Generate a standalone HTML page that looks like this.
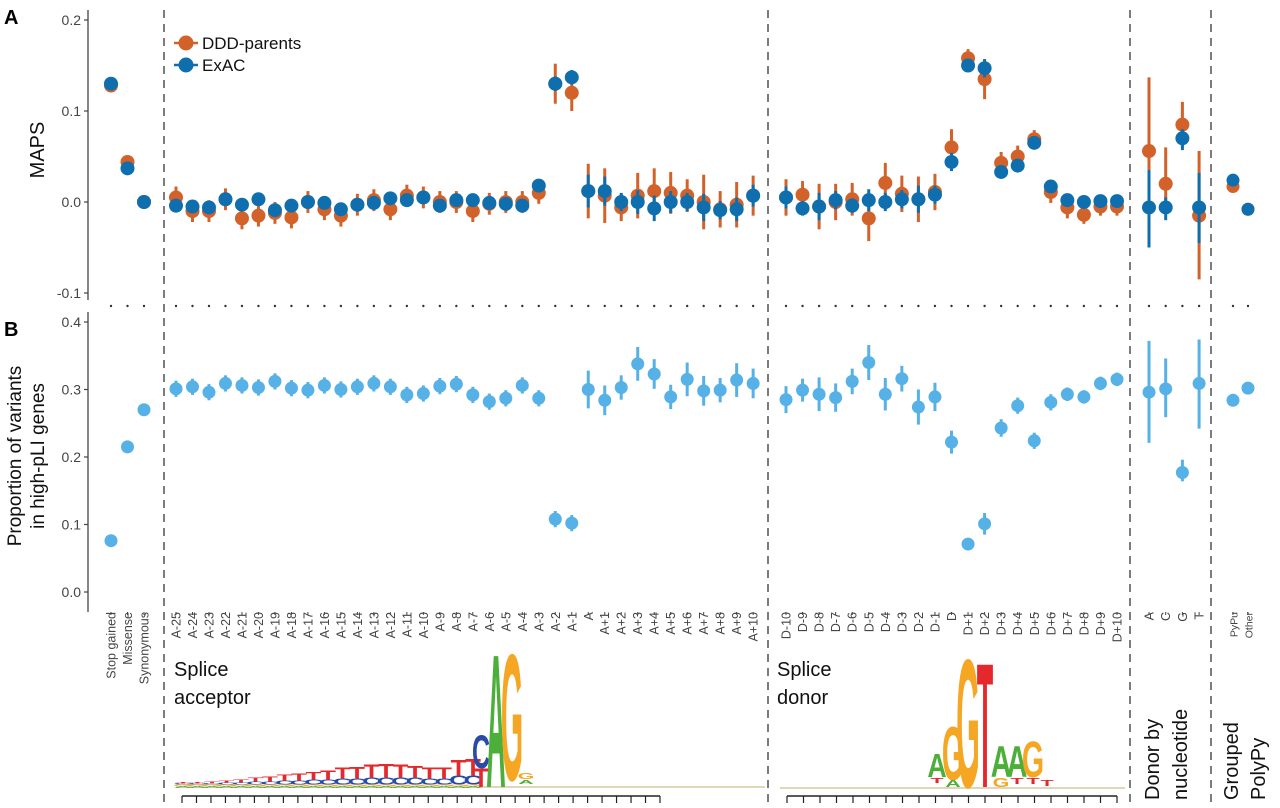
<!DOCTYPE html>
<html><head><meta charset="utf-8"><style>
html,body{margin:0;padding:0;background:#fff;}
svg{display:block;font-family:"Liberation Sans",Arial,sans-serif;}
</style></head><body>
<svg id="chart" width="1280" height="808" viewBox="0 0 1280 808">
<text x="4" y="24" font-size="20" font-weight="bold">A</text>
<text x="4" y="336" font-size="20" font-weight="bold">B</text>
<text transform="translate(44,150) rotate(-90)" text-anchor="middle" font-size="20" fill="#111">MAPS</text>
<text transform="translate(21,456) rotate(-90)" text-anchor="middle" font-size="19" fill="#111">Proportion of variants</text>
<text transform="translate(44,456) rotate(-90)" text-anchor="middle" font-size="19" fill="#111">in high-pLI genes</text>
<g id="legend">
<g><line x1="174" y1="43" x2="198" y2="43" stroke="#d2622a" stroke-width="2.5"/><circle cx="186" cy="43" r="7.5" fill="#d2622a"/><text x="202" y="49" font-size="17" fill="#111">DDD-parents</text></g>
<g><line x1="174" y1="65" x2="198" y2="65" stroke="#0f6fae" stroke-width="2.5"/><circle cx="186" cy="65" r="7.5" fill="#0f6fae"/><text x="202" y="71" font-size="17" fill="#111">ExAC</text></g>
</g>
<g id="axes"></g><g id="marks"></g><g id="logos"></g>
<text x="174" y="676" font-size="20" fill="#111">Splice</text>
<text x="174" y="704" font-size="20" fill="#111">acceptor</text>
<text x="777" y="676" font-size="20" fill="#111">Splice</text>
<text x="777" y="704" font-size="20" fill="#111">donor</text>
<text transform="translate(1159,800) rotate(-90)" font-size="20" fill="#111">Donor by</text>
<text transform="translate(1187,800) rotate(-90)" font-size="20" fill="#111">nucleotide</text>
<text transform="translate(1238,800) rotate(-90)" font-size="20" fill="#111">Grouped</text>
<text transform="translate(1265,800) rotate(-90)" font-size="20" fill="#111">PolyPy</text>
</svg>
<script>
// ---- data ----
const leftCats = ["Stop gained","Missense","Synonymous"];
const accCats = ["A-25","A-24","A-23","A-22","A-21","A-20","A-19","A-18","A-17","A-16","A-15","A-14","A-13","A-12","A-11","A-10","A-9","A-8","A-7","A-6","A-5","A-4","A-3","A-2","A-1","A","A+1","A+2","A+3","A+4","A+5","A+6","A+7","A+8","A+9","A+10"];
const donCats = ["D-10","D-9","D-8","D-7","D-6","D-5","D-4","D-3","D-2","D-1","D","D+1","D+2","D+3","D+4","D+5","D+6","D+7","D+8","D+9","D+10"];
const nucCats = ["A","C","G","T"];
const grpCats = ["PyPu","Other"];
const topTicks = [0.2,0.1,0.0,-0.1];
const botTicks = [0.4,0.3,0.2,0.1,0.0];

const leftDDD = [0.128,0.044,0.0];
const leftExAC = [0.130,0.037,0.0];
const accDDD = [0.005,-0.010,-0.010,0.003,-0.018,-0.015,-0.012,-0.017,0.000,-0.008,-0.015,-0.003,0.002,-0.008,0.007,0.005,0.000,0.000,-0.010,-0.002,0.000,0.000,0.010,0.130,0.120,0.012,0.007,-0.006,0.007,0.012,0.010,0.007,0.000,-0.008,-0.003,0.007];
const accDDDerr = [0.012,0.012,0.012,0.012,0.012,0.012,0.012,0.012,0.012,0.012,0.012,0.012,0.012,0.012,0.012,0.012,0.012,0.012,0.012,0.012,0.012,0.012,0.012,0.022,0.020,0.030,0.030,0.015,0.025,0.025,0.023,0.018,0.030,0.020,0.025,0.022];
const accExAC = [-0.004,-0.005,-0.006,0.003,-0.003,0.003,-0.009,-0.004,0.000,-0.001,-0.008,-0.003,-0.001,0.004,0.002,0.005,-0.004,0.002,0.002,-0.001,-0.002,-0.004,0.018,0.130,0.137,0.012,0.012,0.000,0.000,-0.007,0.000,0.000,-0.006,-0.009,-0.008,0.007];
const accExACerr = [0.006,0.006,0.006,0.006,0.006,0.006,0.006,0.006,0.006,0.006,0.006,0.006,0.006,0.006,0.006,0.006,0.006,0.006,0.006,0.006,0.006,0.006,0.006,0.008,0.008,0.018,0.016,0.010,0.013,0.014,0.012,0.010,0.015,0.010,0.013,0.012];
const donDDD = [0.005,0.008,-0.005,0.000,0.003,-0.018,0.021,0.009,0.003,0.011,0.060,0.158,0.135,0.043,0.050,0.069,0.011,-0.006,-0.014,-0.005,-0.005];
const donDDDerr = [0.020,0.015,0.025,0.020,0.018,0.025,0.022,0.020,0.025,0.020,0.020,0.010,0.022,0.012,0.012,0.010,0.012,0.012,0.010,0.010,0.010];
const donExAC = [0.005,-0.007,-0.005,0.002,-0.004,0.002,0.000,0.003,0.003,0.008,0.044,0.150,0.147,0.033,0.040,0.065,0.017,0.002,0.000,0.001,0.001];
const donExACerr = [0.012,0.008,0.015,0.010,0.008,0.012,0.010,0.010,0.015,0.010,0.010,0.007,0.010,0.007,0.007,0.007,0.006,0.006,0.005,0.005,0.005];
const nucDDD = [0.056,0.020,0.085,-0.015];
const nucDDDlo = [-0.020,-0.010,0.060,-0.085];
const nucDDDhi = [0.137,0.060,0.110,0.056];
const nucExAC = [-0.006,-0.006,0.070,-0.006];
const nucExAClo = [-0.050,-0.020,0.057,-0.045];
const nucExAChi = [0.035,0.005,0.080,0.032];
const grpDDD = [0.017,-0.008];
const grpExAC = [0.024,-0.008];

const leftProp = [0.076,0.215,0.270];
const accProp = [0.301,0.304,0.296,0.309,0.306,0.303,0.312,0.302,0.299,0.306,0.300,0.304,0.309,0.304,0.292,0.294,0.305,0.308,0.292,0.282,0.287,0.306,0.287,0.108,0.102,0.300,0.284,0.303,0.338,0.323,0.289,0.315,0.298,0.299,0.314,0.309];
const accPropErr = [0.012,0.012,0.012,0.012,0.012,0.012,0.012,0.012,0.012,0.012,0.012,0.012,0.012,0.012,0.012,0.012,0.012,0.012,0.012,0.012,0.012,0.012,0.012,0.012,0.012,0.028,0.022,0.018,0.025,0.022,0.018,0.025,0.022,0.018,0.025,0.022];
const donProp = [0.285,0.299,0.293,0.288,0.312,0.340,0.293,0.316,0.274,0.289,0.222,0.071,0.101,0.243,0.276,0.224,0.281,0.293,0.289,0.309,0.315];
const donPropErr = [0.020,0.017,0.025,0.021,0.019,0.026,0.024,0.019,0.026,0.021,0.017,0.005,0.016,0.013,0.012,0.012,0.012,0.010,0.010,0.010,0.010];
const nucProp = [0.296,0.301,0.177,0.309];
const nucPropLo = [0.221,0.259,0.164,0.242];
const nucPropHi = [0.372,0.346,0.196,0.374];
const grpProp = [0.284,0.302];

// logo data (letter heights in px)
const accT = [1,1,2,2,3,4,5,6,7,8,9,11,12,13,14,13,12,11,11,16,17];
const accC = [1,1,1,2,2,3,3,4,4,5,5,6,6,7,7,7,7,6,6,9,9];

// ---- scales ----
const xLeft = i => 111 + 16.5*i;
const xAcc = i => 176 + 16.49*i;
const xDon = i => 786 + 16.55*i;
const xNuc = i => 1149 + 16.7*i;
const xGrp = i => 1233 + 15*i;
const yTop = v => 202 - v*910;
const yBot = v => 592 - v*675;

const NS = "http://www.w3.org/2000/svg";
function mk(tag, attrs, parent){const e=document.createElementNS(NS,tag);for(const k in attrs)e.setAttribute(k,attrs[k]);parent.appendChild(e);return e;}
const axes = document.getElementById('axes');
const marks = document.getElementById('marks');
const logos = document.getElementById('logos');

// axes
let ax = mk('line',{x1:88,y1:10,x2:88,y2:300,stroke:'#444','stroke-width':1.3},axes);


ax = mk('line',{x1:88,y1:312,x2:88,y2:612,stroke:'#444','stroke-width':1.3},axes);


topTicks.forEach(v=>{
  const y=yTop(v);
  const t=mk('line',{x1:84,y1:y,x2:88,y2:y,stroke:'#444','stroke-width':1.2},axes);
  
  
  const l=mk('text',{x:81,y:y+5,'text-anchor':'end','font-size':14,fill:'#444'},axes);
  l.textContent=v.toFixed(1);
  
  
});
botTicks.forEach(v=>{
  const y=yBot(v);
  const t=mk('line',{x1:84,y1:y,x2:88,y2:y,stroke:'#444','stroke-width':1.2},axes);
  
  
  const l=mk('text',{x:81,y:y+5,'text-anchor':'end','font-size':14,fill:'#444'},axes);
  l.textContent=v.toFixed(1);
  
  
});
// dashed dividers
[164,768,1130,1211].forEach(x=>{
  const d=mk('line',{x1:x,y1:10,x2:x,y2:808,stroke:'#444','stroke-width':1.4,'stroke-dasharray':'8,6'},axes);
  
  
});
// x labels + dotted separator
function xlabels(cats, fx, fs){
  cats.forEach((c,i)=>{
    const x=fx(i);
    const dot=mk('circle',{cx:x,cy:306,r:1.2,fill:'#333'},axes);
    
    
    const t=mk('text',{transform:`translate(${x+4.5},612) rotate(-90)`,'text-anchor':'end','font-size':fs,fill:'#444'},axes);
    t.textContent=c;
    
    
    const tk=mk('line',{x1:x,y1:612,x2:x,y2:615,stroke:'#444','stroke-width':1},axes);
    
    
  });
}
xlabels(leftCats,xLeft,12.5);
xlabels(accCats,xAcc,12.5);
xlabels(donCats,xDon,12.5);
xlabels(nucCats,xNuc,12.5);
xlabels(grpCats,xGrp,10.5);

// marks
function pt(x,y,lo,hi,r,col,name){
  if(lo!==null){
    const e=mk('line',{x1:x,y1:lo,x2:x,y2:hi,stroke:col,'stroke-width':3},marks);
    
    
  }
  const c=mk('circle',{cx:x,cy:y,r:r,fill:col},marks);
  
  
}
const OR='#d2622a', BL='#0f6fae', LB='#56b1e6';
leftDDD.forEach((v,i)=>pt(xLeft(i),yTop(v),null,null,7,OR,'point-ddd'));
leftExAC.forEach((v,i)=>pt(xLeft(i),yTop(v),null,null,7,BL,'point-exac'));
accDDD.forEach((v,i)=>pt(xAcc(i),yTop(v),yTop(v-accDDDerr[i]),yTop(v+accDDDerr[i]),7,OR,'point-ddd'));
accExAC.forEach((v,i)=>pt(xAcc(i),yTop(v),yTop(v-accExACerr[i]),yTop(v+accExACerr[i]),7,BL,'point-exac'));
donDDD.forEach((v,i)=>pt(xDon(i),yTop(v),yTop(v-donDDDerr[i]),yTop(v+donDDDerr[i]),7,OR,'point-ddd'));
donExAC.forEach((v,i)=>pt(xDon(i),yTop(v),yTop(v-donExACerr[i]),yTop(v+donExACerr[i]),7,BL,'point-exac'));
nucDDD.forEach((v,i)=>pt(xNuc(i),yTop(v),yTop(nucDDDlo[i]),yTop(nucDDDhi[i]),7,OR,'point-ddd'));
nucExAC.forEach((v,i)=>pt(xNuc(i),yTop(v),yTop(nucExAClo[i]),yTop(nucExAChi[i]),7,BL,'point-exac'));
grpDDD.forEach((v,i)=>pt(xGrp(i),yTop(v),null,null,6.5,OR,'point-ddd'));
grpExAC.forEach((v,i)=>pt(xGrp(i),yTop(v),null,null,6.5,BL,'point-exac'));

leftProp.forEach((v,i)=>pt(xLeft(i),yBot(v),null,null,6.5,LB,'point-proportion'));
accProp.forEach((v,i)=>pt(xAcc(i),yBot(v),yBot(v-accPropErr[i]),yBot(v+accPropErr[i]),6.5,LB,'point-proportion'));
donProp.forEach((v,i)=>pt(xDon(i),yBot(v),yBot(v-donPropErr[i]),yBot(v+donPropErr[i]),6.5,LB,'point-proportion'));
nucProp.forEach((v,i)=>pt(xNuc(i),yBot(v),yBot(nucPropLo[i]),yBot(nucPropHi[i]),6.5,LB,'point-proportion'));
grpProp.forEach((v,i)=>pt(xGrp(i),yBot(v),null,null,6.5,LB,'point-proportion'));

// logos
const LC={A:'#4caf3a',C:'#2a4aa8',G:'#f5a623',T:'#e5282b'};
function letter(ch,cx,bottom,w,h){
  if(h<0.5)return;
  const sx=w/56, sy=h/72;
  const t=mk('text',{transform:`translate(${cx},${bottom}) scale(${sx},${sy})`,'text-anchor':'middle','font-size':100,'font-weight':'bold',fill:LC[ch]},logos);
  t.textContent=ch;
  
  
}
function ruler(x0,x1,n){
  const r=mk('line',{x1:x0,y1:796,x2:x1,y2:796,stroke:'#222','stroke-width':1.5},logos);
  
  
  for(let i=0;i<=n;i++){
    const x=x0+(x1-x0)*i/n;
    const t=mk('line',{x1:x,y1:796,x2:x,y2:803,stroke:'#222','stroke-width':1.2},logos);
    
    
  }
}
ruler(182,660,33);
ruler(787,1117,20);
let bl=mk('line',{x1:176,y1:787,x2:765,y2:787,stroke:'#d9c9a0','stroke-width':1.5},logos);


bl=mk('line',{x1:780,y1:788,x2:1125,y2:788,stroke:'#d9c9a0','stroke-width':1.5},logos);


// acceptor
const aw=14.5, ax0=183;
accT.forEach((t,k)=>{
  const cx=ax0+aw*k;
  letter('A',cx,788,aw,2);
  letter('G',cx,786,aw,1.5);
  letter('C',cx,784.5,aw,accC[k]);
  letter('T',cx,784.5-accC[k],aw,t);
});
letter('T',481,787,14,19);
letter('C',481,768,14,34);
letter('A',496,787,15,137);
letter('G',512,780,16,130);
letter('G',526,779,12,6);
letter('A',526,784,12,4);
// donor
letter('A',937,777,15,24);
letter('T',937,783,12,5);
letter('G',953,780,16,55);
letter('A',953,787,12,7);
letter('G',968,787,17,132);
letter('T',985,787,15,128);
letter('A',1001,777,16,32);
letter('G',1001,787,12,9);
letter('A',1017,777,16,32);
letter('T',1017,784,12,6);
letter('G',1033,777,16,37);
letter('T',1033,784,12,6);
letter('T',1047,786,12,6);
</script>
</body></html>
